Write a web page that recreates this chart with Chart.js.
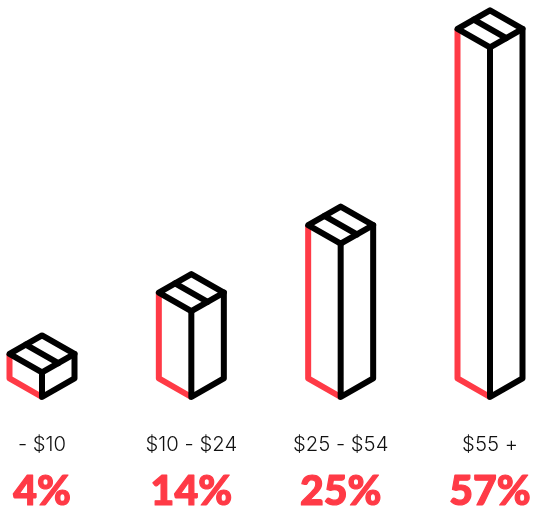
<!DOCTYPE html>
<html>
<head>
<meta charset="utf-8">
<style>
  html, body { margin: 0; padding: 0; background: #fff; }
  #wrap { width: 533px; height: 511px; }
</style>
<script src="https://cdn.jsdelivr.net/npm/chart.js@4"></script>
</head>
<body>
<div id="wrap"><canvas id="c"></canvas></div>
<script>
const categories = ['- $10', '$10 - $24', '$25 - $54', '$55 +'];
const shares = [4, 14, 25, 57];

const RED = '#ff3a46';
const BLACK = '#000000';

// Draws each bar as an isometric parcel with a taped lid.
const parcelBars = {
  id: 'parcelBars',
  beforeDatasetDraw(chart, args) {
    const ctx = chart.ctx;
    args.meta.data.forEach((bar) => {
      const half = bar.width / 2;
      const rise = half * 0.57;
      const cx = bar.x, top = bar.y, bottom = bar.base;

      const line = (color, pts) => {
        ctx.beginPath();
        pts.forEach((p, i) => (i ? ctx.lineTo(p[0], p[1]) : ctx.moveTo(p[0], p[1])));
        ctx.strokeStyle = color;
        ctx.stroke();
      };

      ctx.save();
      ctx.lineWidth = 6;
      ctx.lineJoin = 'round';
      ctx.lineCap = 'butt';
      // Left face edges
      line(RED, [[cx - half, top - rise], [cx - half, bottom - rise], [cx, bottom]]);

      ctx.lineCap = 'round';
      // Front and right face edges
      line(BLACK, [[cx, top], [cx, bottom], [cx + half, bottom - rise], [cx + half, top - rise]]);
      // Lid outline
      ctx.beginPath();
      ctx.moveTo(cx - half, top - rise);
      ctx.lineTo(cx, top - 2 * rise);
      ctx.lineTo(cx + half, top - rise);
      ctx.lineTo(cx, top);
      ctx.closePath();
      ctx.strokeStyle = BLACK;
      ctx.stroke();
      // Tape across the lid
      line(BLACK, [[cx - half / 2, top - 1.5 * rise], [cx + half / 2, top - 0.5 * rise]]);
      ctx.restore();
    });
    return false;
  },
  afterDraw(chart) {
    const ctx = chart.ctx;
    const meta = chart.getDatasetMeta(0);
    ctx.save();
    ctx.fillStyle = RED;
    ctx.strokeStyle = RED;
    ctx.lineWidth = 1.2;
    ctx.lineJoin = 'round';
    ctx.font = '900 41px Lato';
    ctx.textAlign = 'center';
    ctx.textBaseline = 'middle';
    meta.data.forEach((bar, i) => {
      const label = shares[i] + '%';
      ctx.fillText(label, bar.x, 492);
      ctx.strokeText(label, bar.x, 492);
    });
    ctx.restore();
  }
};

new Chart(document.getElementById('c'), {
  type: 'bar',
  data: {
    labels: categories,
    datasets: [{ data: shares, barThickness: 65, backgroundColor: RED }]
  },
  plugins: [parcelBars],
  options: {
    responsive: true,
    maintainAspectRatio: false,
    animation: false,
    layout: { padding: { left: 42, right: 43, top: 29, bottom: 0 } },
    plugins: { legend: { display: false }, tooltip: { enabled: false } },
    scales: {
      x: {
        offset: false,
        grid: { display: false, drawTicks: false },
        border: { display: false },
        afterFit(scale) {
          scale.height = 114;
          scale.paddingLeft = 0;
          scale.paddingRight = 0;
        },
        ticks: {
          padding: 36,
          autoSkip: false,
          maxRotation: 0,
          color: '#111111',
          font: { family: 'Inter', size: 20.3, weight: '300' }
        }
      },
      y: { display: false, min: 0, max: 60 }
    }
  }
});
</script>
</body>
</html>
